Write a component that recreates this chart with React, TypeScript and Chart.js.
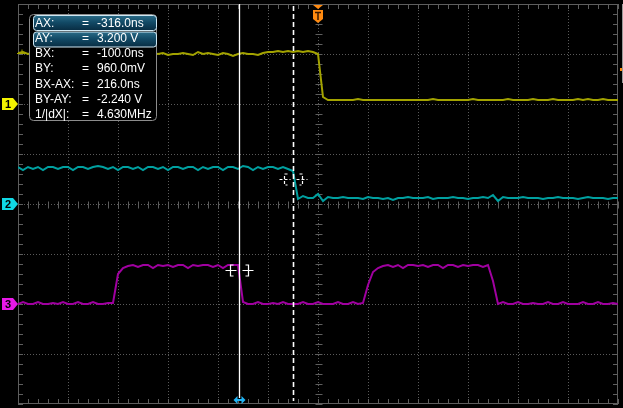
import React, { useEffect, useRef } from "react";
import { Chart, registerables } from "chart.js";

Chart.register(...registerables);

// ---------- data ----------
const SAMPLE_NS = 20; // sample spacing in ns
const timeNs: number[] = Array.from({ length: 121 }, (_, i) => -1200 + SAMPLE_NS * i);

// traces in screen divisions (0 = screen centre)
const ch1Div = [
  3.02, 3.04, 3.0, 3.02, 3.02, 3.0, 3.02, 3.04, 3.0, 3.02,
  3.02, 3.0, 3.02, 3.04, 3.02, 3.0, 3.02, 3.02, 3.04, 3.0,
  3.02, 3.02, 3.0, 3.02, 3.04, 3.02, 3.0, 3.02,
  3.0, 3.02, 2.98, 3.0, 3.0, 3.02, 3.0, 2.98, 3.04, 3.0,
  3.02, 3.0, 2.98, 3.02, 3.0, 2.96, 3.0, 3.02, 3.0, 3.0,
  2.98, 3.02, 3.04, 3.04, 3.06, 3.04, 3.06, 3.04, 3.06, 3.04, 3.06, 3.04,
  3.0, 2.14,
  2.08, 2.08, 2.08, 2.08, 2.08, 2.08, 2.1, 2.08, 2.08, 2.08,
  2.08, 2.08, 2.08, 2.08, 2.08, 2.08, 2.08, 2.08, 2.08, 2.08,
  2.08, 2.1, 2.08, 2.08, 2.08, 2.08, 2.08, 2.08, 2.08, 2.1,
  2.08, 2.08, 2.08, 2.08, 2.08, 2.08, 2.1, 2.08, 2.08, 2.08,
  2.08, 2.1, 2.08, 2.08, 2.08, 2.1, 2.08, 2.08, 2.08, 2.08,
  2.1, 2.08, 2.1, 2.08, 2.08, 2.1, 2.08, 2.08, 2.08,
];

const ch2Div = [
  0.74, 0.68, 0.74, 0.7, 0.74, 0.68, 0.74, 0.74, 0.7, 0.74,
  0.74, 0.68, 0.74, 0.74, 0.7, 0.74, 0.76, 0.74, 0.7, 0.74,
  0.68, 0.74, 0.74, 0.7, 0.74, 0.68, 0.74, 0.74, 0.7, 0.74,
  0.68, 0.74, 0.74, 0.7, 0.74, 0.74, 0.68, 0.74, 0.7, 0.74,
  0.74, 0.68, 0.74, 0.74, 0.7, 0.76, 0.74, 0.68, 0.74, 0.7,
  0.74, 0.74, 0.7, 0.74, 0.7, 0.66,
  0.1, 0.16, 0.12, 0.12, 0.2, 0.06, 0.14, 0.12, 0.12, 0.14,
  0.12, 0.12, 0.12, 0.1, 0.14, 0.12, 0.12, 0.1, 0.12, 0.08,
  0.12, 0.12, 0.14, 0.12, 0.12, 0.12, 0.14, 0.1, 0.12, 0.12,
  0.12, 0.14, 0.12, 0.12, 0.1, 0.12, 0.12, 0.14, 0.12, 0.18,
  0.06, 0.14, 0.12, 0.12, 0.12, 0.14, 0.12, 0.12, 0.12, 0.1,
  0.12, 0.12, 0.14, 0.12, 0.12, 0.12, 0.1, 0.12, 0.14, 0.12,
  0.12, 0.12, 0.1, 0.12, 0.12,
];

const ch3Div = [
  -2.0, -1.96, -2.0, -2.0, -1.96, -2.0, -2.0, -1.98, -2.0, -1.96,
  -2.0, -2.0, -1.96, -2.0, -2.0, -1.96, -2.0, -2.0, -1.98,
  -1.98, -1.4, -1.28, -1.24,
  -1.22, -1.26, -1.22, -1.22, -1.28, -1.22, -1.24, -1.22, -1.26, -1.22,
  -1.22, -1.28, -1.22, -1.24, -1.22, -1.22, -1.26, -1.22, -1.28, -1.22,
  -1.22, -1.22,
  -1.96,
  -2.0, -2.0, -1.96, -2.0, -2.0, -1.98, -2.0, -1.96, -2.0, -2.0,
  -2.0, -1.96, -2.0, -2.0, -1.96, -2.0, -2.0, -2.0, -1.96, -2.0,
  -2.0, -1.96, -2.0,
  -1.98, -1.62, -1.36, -1.28, -1.24,
  -1.22, -1.26, -1.22, -1.28, -1.22, -1.22, -1.24, -1.22, -1.26, -1.22,
  -1.22, -1.28, -1.22, -1.22, -1.26, -1.22, -1.24, -1.22, -1.22, -1.26,
  -1.22,
  -1.54,
  -2.0,
  -1.96, -2.0, -2.0, -1.96, -2.0, -2.0, -1.98, -2.0, -2.0, -1.96,
  -2.0, -2.0, -1.96, -2.0, -2.0, -2.0, -1.96, -2.0, -2.0, -1.96,
  -2.0, -2.0, -1.98, -2.0,
];

const channelNames = ["1", "2", "3"];
const channelOffsetDiv = [2.0, 0.0, -2.0];
const traceColors = ["#a3a300", "#00a0a0", "#a000a0"];
const markerColors = ["#f4f400", "#10d8e4", "#e818e8"];

const cursorAX = -316; // ns
const cursorBX = -100; // ns
const cursorAYDiv = -1.32;
const cursorBYDiv = 0.5;
const triggerTimeNs = 0;
const ch1MarkDiv = 3.04;

const readoutLabels = ["AX:", "AY:", "BX:", "BY:", "BX-AX:", "BY-AY:", "1/|dX|:"];
const readoutValues = ["-316.0ns", "3.200 V", "-100.0ns", "960.0mV", "216.0ns", "-2.240 V", "4.630MHz"];

const X_MIN = -1200, X_MAX = 1200, X_MAJOR = 200, X_MINOR = 40;
const Y_MIN = -4, Y_MAX = 4, Y_MINOR = 0.2;

function roundRect(ctx: CanvasRenderingContext2D, x: number, y: number, w: number, h: number, r: number) {
  ctx.beginPath();
  ctx.moveTo(x + r, y);
  ctx.lineTo(x + w - r, y);
  ctx.quadraticCurveTo(x + w, y, x + w, y + r);
  ctx.lineTo(x + w, y + h - r);
  ctx.quadraticCurveTo(x + w, y + h, x + w - r, y + h);
  ctx.lineTo(x + r, y + h);
  ctx.quadraticCurveTo(x, y + h, x, y + h - r);
  ctx.lineTo(x, y + r);
  ctx.quadraticCurveTo(x, y, x + r, y);
  ctx.closePath();
}

function crosshair(ctx: CanvasRenderingContext2D, cx: number, cy: number, dashed: boolean) {
  ctx.save();
  ctx.strokeStyle = "#ffffff";
  ctx.lineWidth = 1.2;
  ctx.setLineDash(dashed ? [3, 2] : []);
  const y = Math.round(cy) + 0.5;
  ctx.beginPath();
  ctx.moveTo(cx - 14, y); ctx.lineTo(cx - 3, y);
  ctx.moveTo(cx + 3, y); ctx.lineTo(cx + 14, y);
  // left bracket
  ctx.moveTo(cx - 6, y - 5.5); ctx.lineTo(cx - 9, y - 5.5); ctx.lineTo(cx - 9, y + 5.5); ctx.lineTo(cx - 6, y + 5.5);
  // right bracket
  ctx.moveTo(cx + 6, y - 5.5); ctx.lineTo(cx + 9, y - 5.5); ctx.lineTo(cx + 9, y + 5.5); ctx.lineTo(cx + 6, y + 5.5);
  ctx.stroke();
  ctx.restore();
}

const scopePlugin = {
  id: "scope",
  beforeDraw(chart: any) {
    const ctx = chart.ctx as CanvasRenderingContext2D;
    ctx.save();
    ctx.fillStyle = "#000000";
    ctx.fillRect(0, 0, chart.width, chart.height);
    ctx.restore();
  },
  beforeDatasetsDraw(chart: any) {
    const ctx = chart.ctx as CanvasRenderingContext2D;
    const { left, right, top, bottom } = chart.chartArea;
    const xs = chart.scales.x, ys = chart.scales.y;
    ctx.save();
    // dotted grid
    ctx.strokeStyle = "#5a5a5a";
    ctx.lineWidth = 1;
    ctx.setLineDash([1, 2]);
    ctx.beginPath();
    for (let t = X_MIN + X_MAJOR; t < X_MAX; t += X_MAJOR) {
      const px = Math.round(xs.getPixelForValue(t)) + 0.5;
      ctx.moveTo(px, top); ctx.lineTo(px, bottom);
    }
    for (let v = Y_MIN + 1; v < Y_MAX; v += 1) {
      const py = Math.round(ys.getPixelForValue(v)) + 0.5;
      ctx.moveTo(left, py); ctx.lineTo(right, py);
    }
    ctx.stroke();
    ctx.setLineDash([]);
    // frame
    ctx.strokeStyle = "#5e5e5e";
    ctx.strokeRect(left + 0.5, top + 0.5, right - left - 1, bottom - top - 1);
    // minor ticks
    const cx = Math.round(xs.getPixelForValue(0)) + 0.5;
    const cy = Math.round(ys.getPixelForValue(0)) + 0.5;
    ctx.strokeStyle = "#5e5e5e";
    ctx.beginPath();
    const nx = Math.round((X_MAX - X_MIN) / X_MINOR);
    for (let k = 0; k <= nx; k++) {
      const px = Math.round(xs.getPixelForValue(X_MIN + k * X_MINOR)) + 0.5;
      ctx.moveTo(px, top); ctx.lineTo(px, top + 5);
      ctx.moveTo(px, bottom); ctx.lineTo(px, bottom - 5);
      ctx.moveTo(px, cy - 3); ctx.lineTo(px, cy + 4);
    }
    const ny = Math.round((Y_MAX - Y_MIN) / Y_MINOR);
    for (let k = 0; k <= ny; k++) {
      const py = Math.round(ys.getPixelForValue(Y_MIN + k * Y_MINOR)) + 0.5;
      ctx.moveTo(left, py); ctx.lineTo(left + 5, py);
      ctx.moveTo(right, py); ctx.lineTo(right - 5, py);
      ctx.moveTo(cx - 3, py); ctx.lineTo(cx + 4, py);
    }
    ctx.stroke();
    ctx.restore();
  },
  afterDatasetsDraw(chart: any) {
    const ctx = chart.ctx as CanvasRenderingContext2D;
    const { left, right, top, bottom } = chart.chartArea;
    const xs = chart.scales.x, ys = chart.scales.y;
    ctx.save();

    // cursors
    const ax = Math.round(xs.getPixelForValue(cursorAX)) + 0.5;
    const bx = Math.round(xs.getPixelForValue(cursorBX)) + 0.5;
    ctx.strokeStyle = "#ffffff";
    ctx.lineWidth = 1.3;
    ctx.beginPath();
    ctx.moveTo(ax, top); ctx.lineTo(ax, bottom - 6);
    ctx.stroke();
    ctx.setLineDash([5, 3]);
    ctx.lineWidth = 1.6;
    ctx.beginPath();
    ctx.moveTo(bx, top + 2); ctx.lineTo(bx, bottom - 3);
    ctx.stroke();
    ctx.setLineDash([]);
    crosshair(ctx, ax, ys.getPixelForValue(cursorAYDiv), false);
    crosshair(ctx, bx, ys.getPixelForValue(cursorBYDiv), true);

    // cursor handle at bottom
    const hy = bottom - 4;
    ctx.fillStyle = "#22b4f4";
    ctx.strokeStyle = "#22b4f4";
    ctx.lineWidth = 2;
    ctx.beginPath();
    ctx.moveTo(ax - 3, hy); ctx.lineTo(ax + 3, hy);
    ctx.stroke();
    ctx.beginPath();
    ctx.moveTo(ax - 6, hy); ctx.lineTo(ax - 2, hy - 4); ctx.lineTo(ax - 2, hy + 4); ctx.closePath();
    ctx.moveTo(ax + 6, hy); ctx.lineTo(ax + 2, hy - 4); ctx.lineTo(ax + 2, hy + 4); ctx.closePath();
    ctx.fill();

    // trigger marker at top
    const tx = xs.getPixelForValue(triggerTimeNs);
    ctx.fillStyle = "#ff8a10";
    ctx.beginPath();
    ctx.moveTo(tx - 5, top + 1); ctx.lineTo(tx + 5, top + 1); ctx.lineTo(tx, top + 5); ctx.closePath();
    ctx.fill();
    ctx.beginPath();
    ctx.moveTo(tx - 5, top + 6); ctx.lineTo(tx + 5, top + 6); ctx.lineTo(tx + 5, top + 15);
    ctx.lineTo(tx, top + 19); ctx.lineTo(tx - 5, top + 15); ctx.closePath();
    ctx.fill();
    ctx.strokeStyle = "#3a1a00";
    ctx.lineWidth = 1.5;
    ctx.beginPath();
    ctx.moveTo(tx - 3, top + 8.5); ctx.lineTo(tx + 3, top + 8.5);
    ctx.moveTo(tx, top + 8.5); ctx.lineTo(tx, top + 16);
    ctx.stroke();

    // right side markers
    ctx.strokeStyle = "#9a9a9a";
    ctx.lineWidth = 1;
    ctx.beginPath();
    ctx.moveTo(right + 4.5, top); ctx.lineTo(right + 4.5, ys.getPixelForValue(2.42));
    ctx.stroke();
    ctx.fillStyle = "#ff8a10";
    const ty = Math.round(ys.getPixelForValue(2.7));
    ctx.fillRect(right + 2, ty - 1, 2, 3);

    // ch1 small level marker at left
    const my = Math.round(ys.getPixelForValue(ch1MarkDiv)) + 0.5;
    ctx.strokeStyle = "#a3a300";
    ctx.lineWidth = 1;
    ctx.beginPath();
    ctx.moveTo(left - 1, my + 1); ctx.lineTo(left + 9, my + 1);
    ctx.moveTo(left + 4, my - 3); ctx.lineTo(left + 4, my + 1);
    ctx.stroke();

    // channel ground markers
    for (let c = 0; c < channelNames.length; c++) {
      const y = Math.round(ys.getPixelForValue(channelOffsetDiv[c]));
      ctx.fillStyle = markerColors[c];
      ctx.beginPath();
      ctx.moveTo(2, y - 6); ctx.lineTo(13, y - 6); ctx.lineTo(18, y); ctx.lineTo(13, y + 6); ctx.lineTo(2, y + 6);
      ctx.closePath();
      ctx.fill();
      ctx.fillStyle = "#000000";
      ctx.font = "bold 11px 'Liberation Sans', Arial, sans-serif";
      ctx.textAlign = "center";
      ctx.textBaseline = "middle";
      ctx.fillText(channelNames[c], 8, y + 0.5);
    }

    // readout box
    ctx.fillStyle = "#000000";
    roundRect(ctx, 29.5, 14.5, 127, 106, 4);
    ctx.fill();
    ctx.strokeStyle = "#8c8c8c";
    ctx.lineWidth = 1;
    ctx.stroke();
    for (let r = 0; r < 2; r++) {
      const y0 = 15.5 + r * 16.5;
      const g = ctx.createLinearGradient(0, y0, 0, y0 + 15);
      g.addColorStop(0, "#2a6c88");
      g.addColorStop(0.45, "#124a66");
      g.addColorStop(1, "#082c42");
      ctx.fillStyle = g;
      roundRect(ctx, 33.5, y0, 123, 15, 3);
      ctx.fill();
      ctx.strokeStyle = "#cfe8f4";
      ctx.stroke();
    }
    ctx.fillStyle = "#ffffff";
    ctx.font = "12px 'Liberation Sans', Arial, sans-serif";
    ctx.textAlign = "left";
    ctx.textBaseline = "middle";
    for (let r = 0; r < readoutLabels.length; r++) {
      const y = 23.5 + r * 15.2;
      ctx.fillText(readoutLabels[r], 35, y);
      ctx.fillText("=", 82, y);
      ctx.fillText(readoutValues[r], 97, y);
    }
    ctx.restore();
  },
};

export default function App() {
  const ref = useRef<HTMLCanvasElement | null>(null);
  useEffect(() => {
    document.body.style.margin = "0";
    document.body.style.background = "#000";
    const canvas = ref.current!;
    const series = [ch1Div, ch2Div, ch3Div];
    const chart = new Chart(canvas, {
      type: "line",
      data: {
        datasets: series.map((s, c) => ({
          label: "CH" + channelNames[c],
          data: timeNs.map((t, i) => ({ x: t, y: s[i] })),
          borderColor: traceColors[c],
          borderWidth: 2,
          pointRadius: 0,
          tension: 0,
          fill: false,
        })),
      },
      options: {
        responsive: false,
        animation: false,
        devicePixelRatio: 1,
        layout: { padding: { left: 18, right: 5, top: 4, bottom: 4 } },
        scales: {
          x: { type: "linear", min: X_MIN, max: X_MAX, display: false },
          y: { type: "linear", min: Y_MIN, max: Y_MAX, display: false },
        },
        plugins: { legend: { display: false }, tooltip: { enabled: false } },
        events: [],
      },
      plugins: [scopePlugin],
    });
    return () => chart.destroy();
  }, []);
  return <canvas ref={ref} width={623} height={408} style={{ display: "block" }} />;
}
